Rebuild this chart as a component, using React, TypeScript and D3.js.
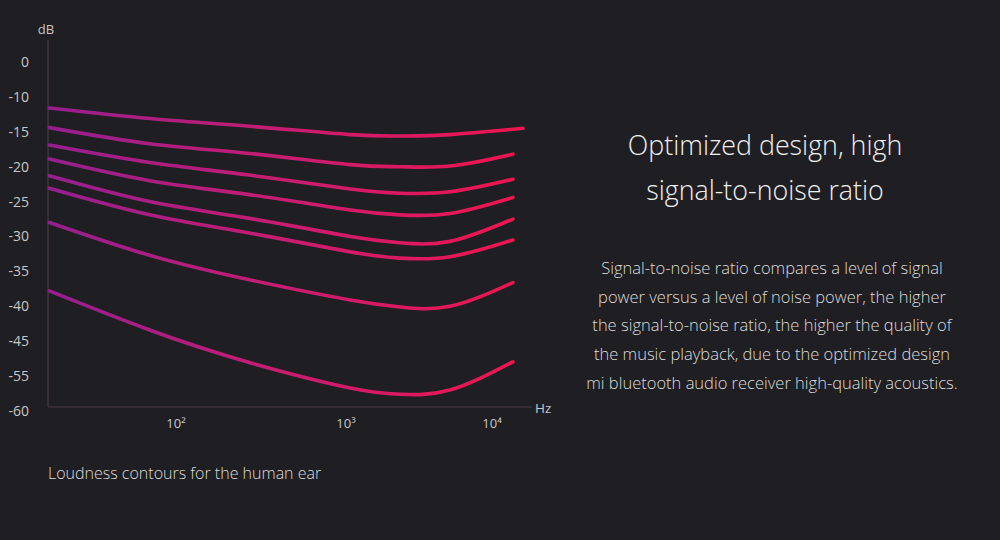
import React from "react";
import * as d3 from "d3";

// y tick labels (the axis is not linear: labels are evenly spaced)
const yTicks = [0, -10, -15, -20, -25, -30, -35, -40, -45, -55, -60];
// x ticks in Hz
const xTicks = [100, 1000, 10000];
const xTickLabels = ["10²", "10³", "10⁴"];

// frequency samples (Hz) for each contour
const freqs = [18, 70, 270, 1070, 2340, 5150, 13900];
const freqsTop = [18, 70, 270, 1070, 2340, 5150, 16300];

// contour levels in dB, top to bottom
const contour1 = [-11.6, -13.1, -14.2, -15.4, -15.6, -15.4, -14.5];
const contour2 = [-14.4, -16.7, -18.1, -19.7, -20.0, -19.9, -18.2];
const contour3 = [-16.9, -19.4, -21.2, -23.2, -23.8, -23.6, -21.8];
const contour4 = [-18.9, -22.0, -24.0, -26.2, -26.9, -26.7, -24.4];
const contour5 = [-21.3, -25.0, -27.4, -30.0, -30.9, -30.7, -27.5];
const contour6 = [-23.1, -26.9, -29.5, -32.2, -33.1, -32.9, -30.5];
const contour7 = [-28.0, -32.7, -36.2, -39.1, -40.1, -40.0, -36.6];
const contour8 = [-37.8, -43.4, -51.1, -56.7, -57.6, -57.0, -50.9];

const contours = [contour1, contour2, contour3, contour4, contour5, contour6, contour7, contour8];

const title = ["Optimized design, high", "signal-to-noise ratio"];
const body = [
  "Signal-to-noise ratio compares a level of signal",
  "power versus a level of noise power, the higher",
  "the signal-to-noise ratio, the higher the quality of",
  "the music playback, due to the optimized design",
  "mi bluetooth audio receiver high-quality acoustics.",
];
const caption = "Loudness contours for the human ear";

const W = 1000;
const H = 540;
const axisX = 48;
const axisBottom = 407;
const font = "'Open Sans', 'Noto Sans', sans-serif";

export default function App() {
  const y = d3
    .scaleLinear()
    .domain(yTicks)
    .range(yTicks.map((_, i) => 62 + i * 34.9));
  const x = d3.scaleLog().domain(xTicks).range([176, 346, 492]);

  const line = d3
    .line<[number, number]>()
    .x((d) => x(d[0]))
    .y((d) => y(d[1]))
    .curve(d3.curveNatural);

  return (
    <svg
      width={W}
      height={H}
      style={{ position: "absolute", left: 0, top: 0, background: "#1f1e22" }}
      fontFamily={font}
    >
      <defs>
        <linearGradient id="grad" gradientUnits="userSpaceOnUse" x1={50} x2={520} y1={0} y2={0}>
          <stop offset="0%" stopColor="#951f8f" />
          <stop offset="50%" stopColor="#c81d70" />
          <stop offset="100%" stopColor="#ef1550" />
        </linearGradient>
      </defs>
      <rect width={W} height={H} fill="#1f1e22" />

      {/* axes */}
      <line x1={axisX} x2={axisX} y1={40} y2={axisBottom} stroke="#4b3a45" strokeWidth={1.2} />
      <line x1={axisX} x2={532} y1={axisBottom} y2={axisBottom} stroke="#4b3a45" strokeWidth={1.2} />
      <text x={46} y={34} fill="#c8c8c8" fontSize={13} textAnchor="middle">dB</text>
      <text x={535} y={413} fill="#c8c8c8" fontSize={13.5}>Hz</text>

      {yTicks.map((t) => (
        <text key={t} x={29} y={y(t)} dy="0.35em" fill="#c8c8c8" fontSize={14} textAnchor="end">
          {t === 0 ? "0" : "-" + Math.abs(t)}
        </text>
      ))}
      {xTicks.map((t, i) => (
        <text key={t} x={x(t)} y={428} fill="#c8c8c8" fontSize={13} textAnchor="middle">
          {xTickLabels[i]}
        </text>
      ))}

      {/* contours */}
      {contours.map((c, i) => {
        const fs = i === 0 ? freqsTop : freqs;
        const pts = c.map((v, j) => [fs[j], v] as [number, number]);
        return (
          <path
            key={i}
            d={line(pts) || ""}
            fill="none"
            stroke="url(#grad)"
            strokeWidth={3.6}
            strokeLinecap="round"
          />
        );
      })}

      {/* right text */}
      {title.map((t, i) => (
        <text
          key={t}
          x={765}
          y={146 + i * 45}
          dy="0.35em"
          fill="#f0f0f0"
          fontSize={26.8}
          fontWeight={300}
          textAnchor="middle"
        >
          {t}
        </text>
      ))}
      {body.map((t, i) => (
        <text
          key={t}
          x={772}
          y={268 + i * 28.8}
          dy="0.35em"
          fill="#dcdcdc"
          fontSize={16.5}
          fontWeight={300}
          textAnchor="middle"
        >
          {t}
        </text>
      ))}

      <text x={48} y={473} dy="0.35em" fill="#dcdcdc" fontSize={16} fontWeight={300}>
        {caption}
      </text>
    </svg>
  );
}
